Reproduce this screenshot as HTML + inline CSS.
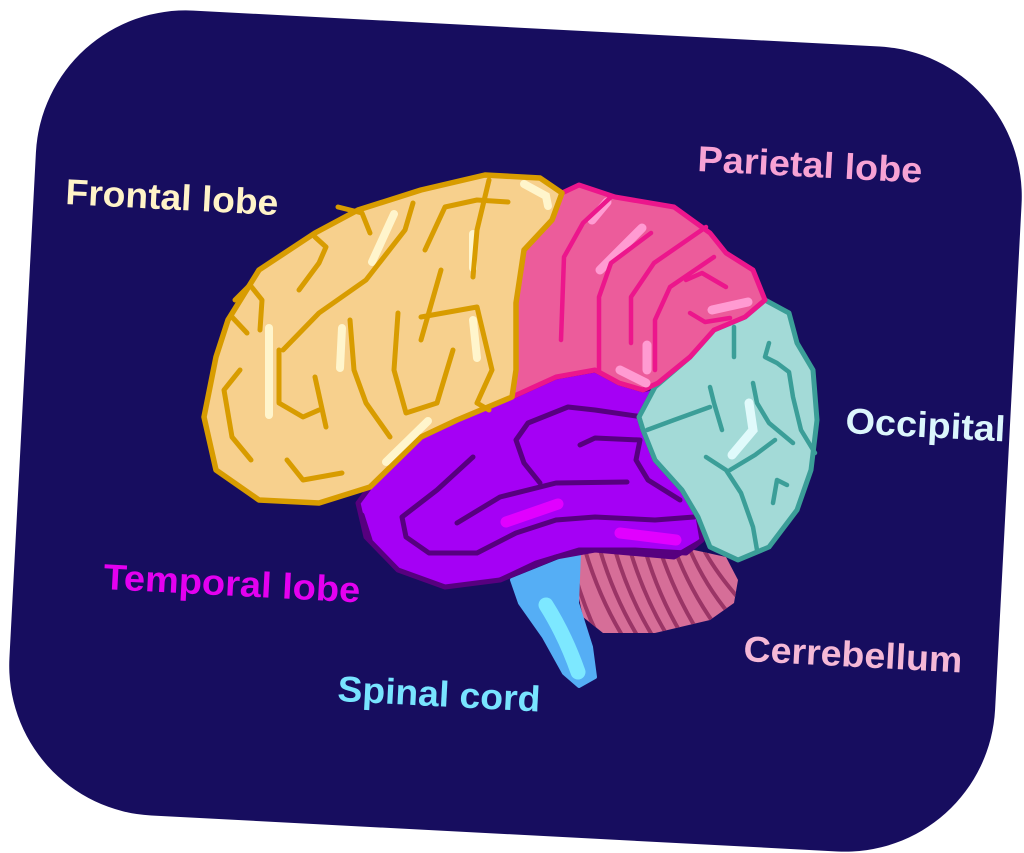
<!DOCTYPE html>
<html><head><meta charset="utf-8"><style>
html,body{margin:0;padding:0;background:#fff;width:1024px;height:853px;overflow:hidden}
svg{display:block}
text{font-family:"Liberation Sans",sans-serif;font-weight:bold;font-size:36px}
</style></head><body>
<svg width="1024" height="853" viewBox="0 0 1024 853" xmlns="http://www.w3.org/2000/svg">
<defs>
<clipPath id="cb"><path d="M579,552 L694,550 L726,557 L738,580 L734,603 L710,620 L655,633 L603,633 L583,617 L575,580 Z"/></clipPath>
</defs>
<g transform="rotate(3 515 431)">
<rect x="22" y="28" width="987" height="806" rx="150" ry="150" fill="#170d5f"/>
</g>

<!-- Cerebellum -->
<path d="M579,552 L694,550 L726,557 L738,580 L734,603 L710,620 L655,633 L603,633 L583,617 L575,580 Z" fill="#d66e98"/>
<g clip-path="url(#cb)" stroke="#9a3566" stroke-width="4" fill="none" stroke-linecap="round">
<path d="M585,550 Q600,600 625,640"/><path d="M600,550 Q615,600 640,640"/><path d="M615,550 Q630,600 655,640"/><path d="M630,550 Q645,600 670,640"/><path d="M645,550 Q660,600 685,640"/><path d="M660,550 Q675,595 700,635"/><path d="M675,550 Q690,590 715,625"/><path d="M690,550 Q705,585 730,615"/><path d="M705,552 Q718,575 740,600"/><path d="M575,575 Q585,610 600,640"/>
</g>

<!-- Spinal cord -->
<path d="M512,580 L579,553 L577,603 L591,647 L595,677 L579,686 L564,673 L544,637 L520,603 Z" fill="#55aef5" stroke="#55aef5" stroke-width="4" stroke-linejoin="round"/>
<path d="M546,605 Q565,635 578,672" stroke="#7de8ff" stroke-width="15" fill="none" stroke-linecap="round"/>

<!-- Temporal -->
<path d="M512,397 L556,377 L595,370 L619,383 L643,390 L655,387 L639,417 L643,430 L655,460 L682,490 L698,517 L702,540 L686,553 L635,550 L579,550 L536,563 L500,580 L445,587 L398,570 L366,537 L358,503 L370,487 L421,437 L457,420 Z" fill="#a500f5" stroke="#57007f" stroke-width="5" stroke-linejoin="round"/>
<g stroke="#e100ff" stroke-width="11" stroke-linecap="round" fill="none">
<path d="M506,522 L558,504"/><path d="M620,533 L676,540"/>
</g>
<g stroke="#57007f" stroke-width="5" stroke-linecap="round" stroke-linejoin="round" fill="none">
<path d="M643,417 L595,410 L568,407 L528,423 L516,440 L524,463 L540,483"/>
<path d="M580,445 L595,438 L640,440 L636,460 L648,480 L680,500"/>
<path d="M627,482 L556,483 L500,497 L457,523"/>
<path d="M473,457 L437,490 L402,517 L406,537 L429,553 L477,553 L516,533 L556,520 L595,517 L655,520 L694,517"/>
<path d="M370,540 L362,515"/>
<path d="M500,580 L556,557 L595,550 L674,557 L698,543"/>
</g>

<!-- Occipital -->
<path d="M765,300 L789,313 L797,343 L813,370 L817,420 L811,470 L797,510 L769,547 L738,560 L710,547 L698,517 L682,490 L655,460 L643,430 L639,417 L655,387 L690,357 L714,330 L745,317 Z" fill="#a3dad7" stroke="#3b9e98" stroke-width="5" stroke-linejoin="round"/>
<path d="M749,403 L753,430 L732,455" stroke="#e0fafb" stroke-width="9" fill="none" stroke-linecap="round"/>
<g stroke="#3b9e98" stroke-width="4.5" stroke-linecap="round" stroke-linejoin="round" fill="none">
<path d="M769,343 L765,357 L777,363 L789,372 L793,397 L801,430 L815,453"/>
<path d="M734,327 L734,357"/>
<path d="M710,387 L714,403 L722,430"/>
<path d="M647,430 L674,420 L710,407"/>
<path d="M753,383 L757,403 L769,423 L793,443"/>
<path d="M706,457 L726,470 L741,493 L753,527 L757,550"/>
<path d="M730,470 L755,455 L775,440"/>
<path d="M773,503 L777,480 L787,485"/>
</g>

<!-- Parietal -->
<path d="M562,193 L579,185 L615,197 L674,207 L710,233 L726,253 L753,270 L765,300 L745,317 L714,330 L690,357 L658,383 L643,390 L619,383 L595,370 L556,377 L512,397 L516,370 L516,303 L524,250 L552,220 Z" fill="#ec5c9b" stroke="#ec168c" stroke-width="5" stroke-linejoin="round"/>
<g stroke="#ff9bd2" stroke-width="9" stroke-linecap="round" fill="none">
<path d="M607,202 L592,220"/><path d="M642,228 L600,270"/><path d="M712,310 L748,302"/><path d="M620,370 L646,383"/><path d="M647,345 L647,370"/>
</g>
<g stroke="#ec168c" stroke-width="4.5" stroke-linecap="round" stroke-linejoin="round" fill="none">
<path d="M611,197 L583,223 L564,257 L561,340"/>
<path d="M651,233 L611,263 L599,297 L599,370"/>
<path d="M706,227 L654,263 L631,297 L631,343"/>
<path d="M714,257 L670,287 L655,320 L655,370"/>
<path d="M726,287 L702,273 L686,280"/>
<path d="M690,313 L705,322 L730,318"/>
</g>

<!-- Frontal -->
<path d="M204,417 L216,357 L228,320 L259,270 L315,233 L358,210 L421,190 L485,175 L540,178 L562,193 L552,220 L524,250 L516,303 L516,370 L512,397 L457,420 L421,437 L370,487 L319,503 L259,500 L216,470 Z" fill="#f7d08d" stroke="#d89c00" stroke-width="5.5" stroke-linejoin="round"/>
<g stroke="#fff5cc" stroke-width="8" stroke-linecap="round" fill="none">
<path d="M269,328 L269,415"/><path d="M342,328 L340,368"/><path d="M394,214 L372,262"/><path d="M473,234 L473,268"/><path d="M473,320 L477,358"/><path d="M524,184 L546,196 L548,206"/><path d="M386,462 L428,421"/>
</g>
<g stroke="#d89c00" stroke-width="5" stroke-linecap="round" stroke-linejoin="round" fill="none">
<path d="M299,290 L319,263 L326,247 L315,237"/>
<path d="M370,233 L362,213 L338,207"/>
<path d="M283,350 L319,313 L366,280 L405,230 L413,203"/>
<path d="M425,250 L445,207 L477,200 L508,202"/>
<path d="M473,277 L477,230 L489,180"/>
<path d="M441,270 L421,340"/>
<path d="M398,313 L394,370 L406,413 L437,403 L453,350"/>
<path d="M421,317 L477,307 L492,370 L477,403 L489,410"/>
<path d="M232,317 L247,333"/>
<path d="M315,377 L326,427"/>
<path d="M350,320 L354,370 L366,403 L390,437"/>
<path d="M240,370 L224,390 L232,437 L251,460"/>
<path d="M287,460 L303,480 L342,473"/>
<path d="M279,350 L279,403 L303,417 L319,410"/>
<path d="M260,330 L262,300 L250,285 L235,300"/>
</g>

<!-- Labels -->
<text x="65" y="204" fill="#fff3c8" textLength="213" lengthAdjust="spacingAndGlyphs" transform="rotate(3 65 204)">Frontal lobe</text>
<text x="697" y="171" fill="#f7a2d4" textLength="225" lengthAdjust="spacingAndGlyphs" transform="rotate(3 697 171)">Parietal lobe</text>
<text x="845" y="433" fill="#dcf6fc" textLength="160" lengthAdjust="spacingAndGlyphs" transform="rotate(3 845 433)">Occipital</text>
<text x="103" y="589" fill="#e400f0" textLength="257" lengthAdjust="spacingAndGlyphs" transform="rotate(3 103 589)">Temporal lobe</text>
<text x="743" y="661" fill="#f5b8d6" textLength="219" lengthAdjust="spacingAndGlyphs" transform="rotate(3 743 661)">Cerrebellum</text>
<text x="337" y="701" fill="#78e4ff" textLength="203" lengthAdjust="spacingAndGlyphs" transform="rotate(3 337 701)">Spinal cord</text>
</svg>
</body></html>
